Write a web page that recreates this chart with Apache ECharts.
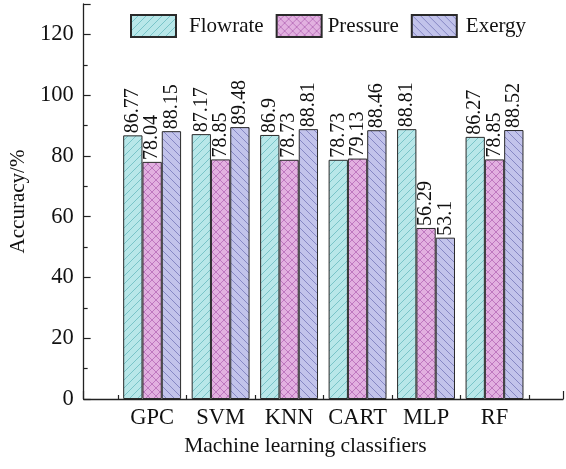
<!DOCTYPE html>
<html>
<head>
<meta charset="utf-8">
<script src="https://cdn.jsdelivr.net/npm/echarts@6/dist/echarts.min.js"></script>
<style>
html,body{margin:0;padding:0;background:#fff;}
#chart{width:566px;height:469px;}
</style>
</head>
<body>
<div id="chart"></div>
<script>
const categories = ['GPC', 'SVM', 'KNN', 'CART', 'MLP', 'RF'];
const flowrate = [86.77, 87.17, 86.9, 78.73, 88.81, 86.27];
const pressure = [78.04, 78.85, 78.73, 79.13, 56.29, 78.85];
const exergy = [88.15, 89.48, 88.81, 88.46, 53.1, 88.52];
const seriesNames = ['Flowrate', 'Pressure', 'Exergy'];
const yTicks = [0, 20, 40, 60, 80, 100, 120];

const FONT = "'Liberation Serif', 'Times New Roman', serif";

function makePattern(bg, line, kind) {
  const s = 8;
  const c = document.createElement('canvas');
  c.width = s; c.height = s;
  const g = c.getContext('2d');
  g.fillStyle = bg; g.fillRect(0, 0, s, s);
  g.strokeStyle = line; g.lineWidth = 0.8;
  function fwd() {
    g.beginPath();
    g.moveTo(-1, s + 1); g.lineTo(s + 1, -1);
    g.moveTo(-1, 1); g.lineTo(1, -1);
    g.moveTo(s - 1, s + 1); g.lineTo(s + 1, s - 1);
    g.stroke();
  }
  function back() {
    g.beginPath();
    g.moveTo(-1, -1); g.lineTo(s + 1, s + 1);
    g.moveTo(s - 1, -1); g.lineTo(s + 1, 1);
    g.moveTo(-1, s - 1); g.lineTo(1, s + 1);
    g.stroke();
  }
  if (kind === 'fwd') fwd();
  else if (kind === 'back') back();
  else { fwd(); back(); }
  return { image: c, repeat: 'repeat' };
}

const fills = [
  makePattern('#b8e7e9', '#68bbbf', 'fwd'),
  makePattern('#e2b0e0', '#b56ab6', 'cross'),
  makePattern('#c2c3eb', '#7677ba', 'back')
];
const dataSets = [flowrate, pressure, exergy];

const series = seriesNames.map((name, i) => ({
  name: name,
  type: 'bar',
  barWidth: 19.3,
  barGap: '0%',
  data: dataSets[i].map((v, k) => [k + 1, v]),
  itemStyle: { color: fills[i], borderColor: '#2a2a2a', borderWidth: 1 },
  label: {
    show: true,
    position: 'top',
    rotate: 90,
    align: 'left',
    verticalAlign: 'middle',
    distance: 2,
    fontFamily: FONT,
    fontSize: 20,
    color: '#111',
    formatter: p => String(p.value[1])
  },
  emphasis: { disabled: true }
}));

const legendPads = [[0, 8, 0, 8], [0, 0, 0, 1], [0, 0, 0, 4]];

const chart = echarts.init(document.getElementById('chart'), null, { renderer: 'canvas' });
chart.setOption({
  animation: false,
  backgroundColor: '#fff',
  grid: { left: 82, right: -7, top: 4, bottom: 70, containLabel: false },
  legend: {
    data: seriesNames.map((n, i) => ({
      name: n,
      icon: 'rect',
      textStyle: { fontFamily: FONT, fontSize: 21, color: '#111', padding: legendPads[i] }
    })),
    left: 130,
    top: 14,
    padding: 0,
    itemWidth: 45,
    itemHeight: 22,
    itemGap: 12,
    textStyle: { fontFamily: FONT, fontSize: 21, color: '#111' }
  },
  xAxis: {
    type: 'value',
    min: 0,
    max: 7,
    interval: 1,
    name: 'Machine learning classifiers',
    nameLocation: 'middle',
    nameGap: 35,
    nameTextStyle: { fontFamily: FONT, fontSize: 21.5, color: '#111', padding: [0, 36, 0, 0] },
    axisLine: { show: true, lineStyle: { color: '#222', width: 1.3 } },
    axisTick: { show: true, inside: true, length: 8, lineStyle: { color: '#222', width: 1.2 } },
    minorTick: { show: true, splitNumber: 2, length: 4, lineStyle: { color: '#222', width: 1.2 } },
    splitLine: { show: false },
    minorSplitLine: { show: false },
    axisLabel: {
      fontFamily: FONT, fontSize: 22.5, color: '#111', margin: 8,
      showMinLabel: true, showMaxLabel: true,
      formatter: v => (Number.isInteger(v) && v >= 1 && v <= categories.length) ? categories[v - 1] : ''
    }
  },
  yAxis: {
    type: 'value',
    min: 0,
    max: 130,
    interval: 20,
    name: 'Accuracy/%',
    nameLocation: 'middle',
    nameGap: 45,
    nameRotate: 90,
    nameTextStyle: { fontFamily: FONT, fontSize: 21, color: '#111' },
    axisLine: { show: true, lineStyle: { color: '#222', width: 1.3 } },
    axisTick: { show: true, inside: true, length: 7, lineStyle: { color: '#222', width: 1.2 } },
    minorTick: { show: true, splitNumber: 2, length: 4, lineStyle: { color: '#222', width: 1.2 } },
    splitLine: { show: false },
    minorSplitLine: { show: false },
    axisLabel: {
      fontFamily: FONT, fontSize: 22.5, color: '#111', margin: 10,
      showMaxLabel: false,
      formatter: v => yTicks.includes(v) ? String(v) : ''
    }
  },
  series: series
});
</script>
</body>
</html>
